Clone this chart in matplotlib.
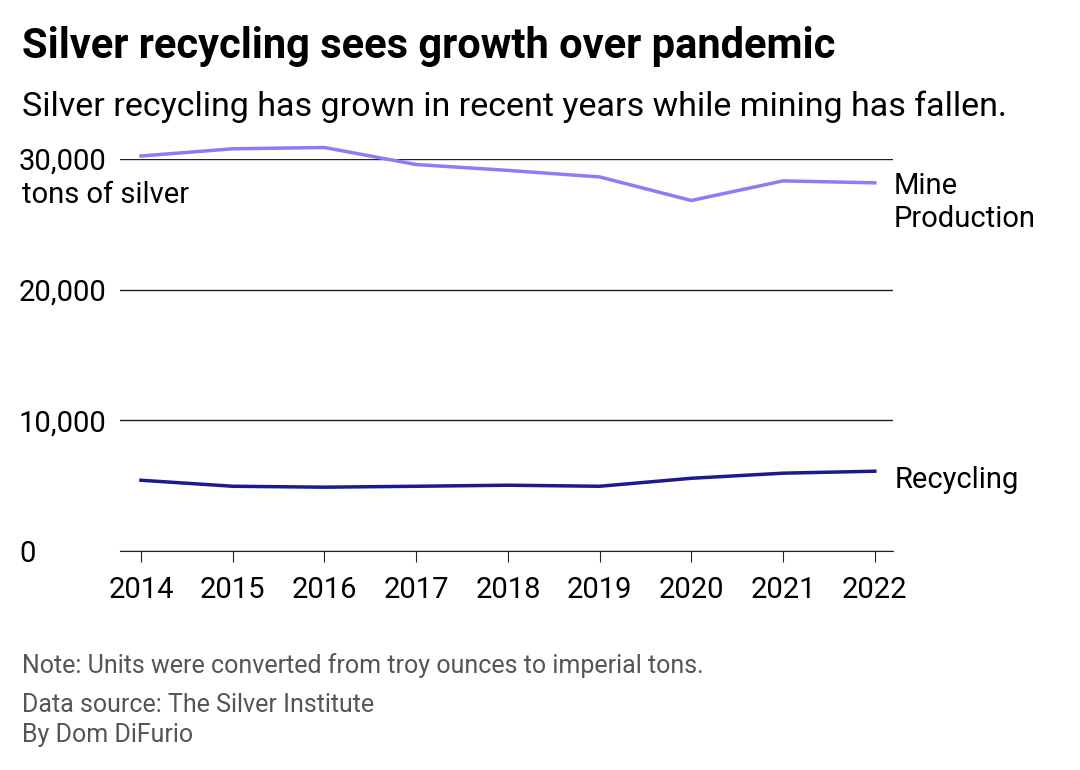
import matplotlib
matplotlib.use("Agg")
import matplotlib.pyplot as plt

plt.rcParams['font.family'] = ['Roboto', 'DejaVu Sans']

years = [2014, 2015, 2016, 2017, 2018, 2019, 2020, 2021, 2022]
mine = [30200, 30750, 30850, 29550, 29100, 28600, 26800, 28300, 28150]
recycling = [5430, 4970, 4900, 4970, 5050, 4970, 5580, 5970, 6120]
yticks = [0, 10000, 20000, 30000]

fig = plt.figure(figsize=(10.8, 7.7), dpi=100)
ax = fig.add_axes([0.111, 0.284, 0.716, 0.51])

ax.plot(years, mine, color='#8b7cf8', lw=2.5, clip_on=False)
ax.plot(years, recycling, color='#1c1a8c', lw=2.5, clip_on=False)

ax.set_xlim(2013.77, 2022.2)
ax.set_ylim(0, 30000)
ax.set_yticks(yticks)
ax.set_yticklabels(['0', '10,000', '20,000', '30,000'])
ax.set_xticks(years)
ax.grid(axis='y', color='#222222', lw=1)
ax.set_axisbelow(True)
for s in ['top', 'right', 'left']:
    ax.spines[s].set_visible(False)
ax.spines['bottom'].set_color('#222222')
ax.tick_params(axis='y', length=0, labelsize=21, pad=2)
ax.tick_params(axis='x', length=8, labelsize=21, color='#222222', pad=10)
for lab in ax.get_yticklabels():
    lab.set_horizontalalignment('left')
    lab.set_x(-0.127)
ax.text(-0.127, 0.908, 'tons of silver', transform=ax.transAxes, fontsize=21, va='center')

ax.text(1.0, 0.965, 'Mine\nProduction', transform=ax.transAxes, fontsize=21,
        va='top', ha='left', linespacing=1.2)
ax.text(2022.22, 5430, 'Recycling', fontsize=21, va='center', ha='left')

fig.text(0.02, 0.94, 'Silver recycling sees growth over pandemic', fontsize=30,
         fontweight='bold', va='center')
fig.text(0.02, 0.862, 'Silver recycling has grown in recent years while mining has fallen.',
         fontsize=24.5, va='center')
fig.text(0.02, 0.136, 'Note: Units were converted from troy ounces to imperial tons.',
         fontsize=18, color='#555555', va='center')
fig.text(0.02, 0.084, 'Data source: The Silver Institute', fontsize=18, color='#555555', va='center')
fig.text(0.02, 0.045, 'By Dom DiFurio', fontsize=18, color='#555555', va='center')

fig.savefig('out.png', dpi=100)
